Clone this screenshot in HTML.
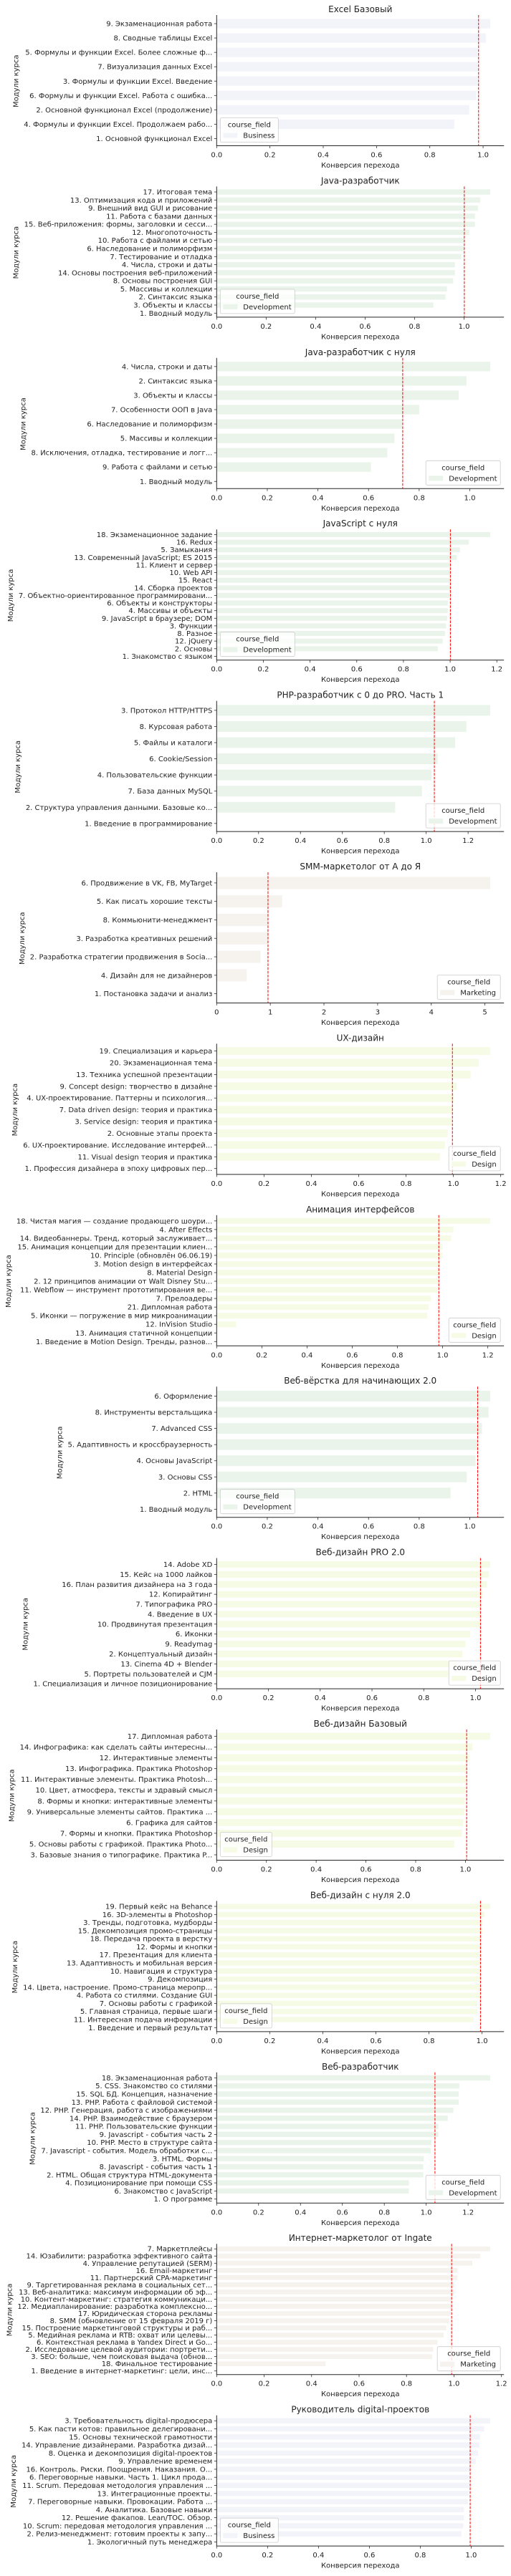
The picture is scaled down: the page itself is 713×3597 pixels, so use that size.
<!DOCTYPE html>
<html><head><meta charset="utf-8"><title>Конверсия перехода по модулям</title>
<style>
html,body{margin:0;padding:0;background:#fff;}
svg text{font-family:"DejaVu Sans","Liberation Sans","Noto Sans CJK SC",sans-serif;fill:#222;}
</style></head>
<body>
<svg id="chart" xmlns="http://www.w3.org/2000/svg" width="713" height="3592" viewBox="0 0 713 3592"></svg>
<script>
const titles=["Excel Базовый","Java-разработчик","Java-разработчик с нуля","JavaScript с нуля","PHP-разработчик с 0 до PRO. Часть 1","SMM-маркетолог от А до Я","UX-дизайн","Анимация интерфейсов","Веб-вёрстка для начинающих 2.0","Веб-дизайн PRO 2.0","Веб-дизайн Базовый","Веб-дизайн с нуля 2.0","Веб-разработчик","Интернет-маркетолог от Ingate","Руководитель digital-проектов"];
const fields=["Business","Development","Development","Development","Development","Marketing","Design","Design","Development","Design","Design","Design","Development","Marketing","Business"];
const means=[0.983,1.001,0.735,1.001,1.039,0.957,0.996,0.983,1.031,1.019,1.005,0.994,1.042,0.99,0.996];
const tickSteps=[0.2,0.2,0.2,0.2,0.2,1,0.2,0.2,0.2,0.2,0.2,0.2,0.2,0.2,0.2];
const legendSides=["left","left","right","left","right","right","right","right","left","right","left","left","right","right","left"];

const labels0=["9. Экзаменационная работа","8. Сводные таблицы Excel","5. Формулы и функции Excel. Более сложные ф...","7.  Визуализация данных Excel","3. Формулы и функции Excel. Введение","6. Формулы и функции Excel. Работа с ошибка...","2. Основной функционал Excel (продолжение)","4. Формулы и функции Excel. Продолжаем рабо...","1. Основной функционал Excel"];
const values0=[1.027,1.010,0.98,0.98,0.98,0.974,0.948,0.892,0];
const labels1=["17. Итоговая тема","13. Оптимизация кода и приложений","9. Внешний вид GUI и рисование","11. Работа с базами данных","15. Веб-приложения: формы, заголовки и сесси...","12. Многопоточность","10. Работа с файлами и сетью","6. Наследование и полиморфизм","7. Тестирование и отладка","4. Числа, строки и даты","14. Основы построения веб-приложений","8. Основы построения GUI","5. Массивы и коллекции","2. Синтаксис языка","3. Объекты и классы","1. Вводный модуль"];
const values1=[1.106,1.065,1.056,1.044,1.044,1.021,1.003,1.0,0.989,0.963,0.963,0.956,0.931,0.925,0.876,0];
const labels2=["4. Числа, строки и даты","2. Синтаксис языка","3. Объекты и классы","7. Особенности ООП в Java","6. Наследование и полиморфизм","5. Массивы и коллекции","8. Исключения, отладка, тестирование и логг...","9. Работа с файлами и сетью","1. Вводный модуль"];
const values2=[1.081,0.987,0.956,0.8,0.732,0.702,0.674,0.609,0];
const labels3=["18. Экзаменационное задание","16. Redux","5. Замыкания","13. Современный JavaScript; ES 2015","11. Клиент и сервер","10. Web API","15. React","14. Сборка проектов","7. Объектно-ориентированное программировани...","6. Объекты и конструкторы","4. Массивы и объекты","9. JavaScript в браузере; DOM","3. Функции","8. Разное","12. jQuery","2. Основы","1. Знакомство с языком"];
const values3=[1.172,1.08,1.042,1.029,0.999,0.999,0.999,0.999,0.996,0.99,0.99,0.987,0.983,0.978,0.968,0.947,0];
const labels4=["3. Протокол HTTP/HTTPS","8. Курсовая работа","5. Файлы и каталоги","6. Cookie/Session","4. Пользовательские функции","7. База данных MySQL","2. Структура управления данными. Базовые ко...","1. Введение в программирование"];
const values4=[1.306,1.192,1.138,1.055,1.025,0.98,0.852,0];
const labels5=["6. Продвижение в VK, FB, MyTarget","5. Как писать хорошие тексты","8. Коммьюнити-менеджмент","3. Разработка креативных решений","2. Разработка стратегии продвижения в Socia...","4. Дизайн для не дизайнеров","1. Постановка задачи и анализ "];
const values5=[5.10,1.22,0.95,0.95,0.817,0.561,0];
const labels6=["19. Специализация и карьера","20. Экзаменационная тема","13. Техника успешной презентации","9. Concept design: творчество в дизайне","4. UX-проектирование. Паттерны и психология...","7. Data driven design: теория и практика","3. Service design: теория и практика","2. Основные этапы проекта","6. UX-проектирование. Исследование интерфей...","11. Visual design теория и практика","1. Профессия дизайнера в эпоху цифровых пер..."];
const values6=[1.156,1.107,1.073,1.015,1.001,0.996,0.993,0.976,0.964,0.943,0];
const labels7=["18. Чистая магия — создание продающего шоури...","4. After Effects","14. Видеобаннеры. Тренд, который заслуживает...","15. Анимация концепции для презентации клиен...","10. Principle (обновлён 06.06.19)","3. Motion design в интерфейсах","8. Material Design","2. 12 принципов анимации от Walt Disney Stu...","11. Webflow — инструмент прототипирования ве...","7. Прелоадеры","21. Дипломная работа","5. Иконки — погружение в мир микроанимации","12. InVision Studio","13. Анимация статичной концепции","1. Введение в Motion Design. Тренды, разнов..."];
const values7=[1.211,1.048,1.038,0.999,0.999,0.988,0.98,0.98,0.977,0.948,0.939,0.932,0.086,0,0];
const labels8=["6. Оформление","8. Инструменты верстальщика","7. Advanced CSS","5. Адаптивность и кроссбраузерность","4. Основы JavaScript","3. Основы CSS","2. HTML","1. Вводный модуль"];
const values8=[1.081,1.074,1.048,1.03,1.023,0.988,0.924,0];
const labels9=["14. Adobe XD","15. Кейс на 1000 лайков","16. План развития дизайнера на 3 года","12. Копирайтинг","7. Типографика PRO","4.  Введение в UX","10. Продвинутая презентация","6. Иконки","9. Readymag","2. Концептуальный дизайн","13. Cinema 4D + Blender","5. Портреты пользователей и CJM","1. Специализация и личное позиционирование"];
const values9=[1.057,1.052,1.044,1.027,1.016,1.016,1.016,0.98,0.961,0.949,0.933,0.893,0];
const labels10=["17. Дипломная работа","14. Инфографика: как сделать сайты интересны...","12. Интерактивные элементы","13. Инфографика. Практика Photoshop","11. Интерактивные элементы. Практика Photosh...","10. Цвет, атмосфера, тексты и здравый смысл","8. Формы и кнопки: интерактивные элементы","9. Универсальные элементы сайтов. Практика ...","6. Графика для сайтов","7. Формы и кнопки. Практика Photoshop","5. Основы работы с графикой. Практика Photo...","3. Базовые знания о типографике. Практика P..."];
const values10=[1.1,1.028,1.016,1.004,1.004,1.0,0.997,0.995,0.992,0.986,0.955,0];
const labels11=["19. Первый кейс на Behance","16. 3D-элементы в Photoshop","3. Тренды, подготовка, мудборды","15. Декомпозиция промо-страницы","18. Передача проекта в верстку","12. Формы и кнопки","17. Презентация для клиента","13.  Адаптивность и мобильная версия","10. Навигация и структура","9. Декомпозиция","14. Цвета, настроение. Промо-страница меропр...","4. Работа со стилями. Создание GUI","7. Основы работы с графикой","5. Главная страница, первые шаги","11. Интересная подача информации","1. Введение и первый результат"];
const values11=[1.031,1.01,1.001,1.001,0.994,0.994,0.991,0.991,0.991,0.991,0.991,0.991,0.981,0.981,0.968,0];
const labels12=["18. Экзаменационная работа ","5. CSS. Знакомство со стилями","15. SQL БД. Концепция, назначение","13. PHP. Работа с файловой системой","12. PHP. Генерация, работа  с изображениями","14. PHP. Взаимодействие  с браузером","11. PHP. Пользовательские функции","9. Javascript - события часть 2","10. PHP. Место в структуре сайта","7. Javascript - события. Модель обработки с...","3. HTML. Формы","8. Javascript - события часть 1 ","2. HTML. Общая структура HTML-документа","4. Позиционирование при помощи CSS","6. Знакомство с JavaScript","1. О программе"];
const values12=[1.306,1.158,1.155,1.155,1.13,1.103,1.058,1.058,1.025,1.022,0.989,0.986,0.986,0.917,0.917,0];
const labels13=["7. Маркетплейсы","14. Юзабилити: разработка эффективного сайта","4. Управление репутацией (SERM)","16. Email-маркетинг","11. Партнерский CPA-маркетинг","9. Таргетированная реклама в социальных сет...","13. Веб-аналитика: максимум информации об эф...","10. Контент-маркетинг: стратегия коммуникаци...","12. Медиапланирование: разработка комплексно...","17. Юридическая сторона рекламы","8. SMM (обновление от 15 февраля 2019 г)","15. Построение маркетинговой структуры и раб...","5. Медийная реклама и RTB: охват или целевы...","6. Контекстная реклама в Yandex Direct и Go...","2. Исследование целевой аудитории: портрети...","3. SEO: больше, чем поисковая выдача (обнов...","18. Финальное тестирование","1. Введение в интернет-маркетинг: цели, инс..."];
const values13=[1.153,1.111,1.077,1.015,1.015,1.001,1.001,0.99,0.988,0.985,0.98,0.968,0.956,0.931,0.913,0.908,0.459,0];
const labels14=["3. Требовательность digital-продюсера","5. Как пасти котов: правильное делегировани...","15. Основы технической грамотности","14. Управление дизайнерами. Разработка дизай...","8. Оценка и декомпозиция digital-проектов","9. Управление временем","16. Контроль. Риски. Поощрения. Наказания. О...","6. Переговорные навыки. Часть 1. Цикл прода...","11. Scrum. Передовая методология управления ...","13. Интеграционные проекты.","7. Переговорные навыки. Провокации. Работа ...","4. Аналитика. Базовые навыки","12. Решение факапов. Lean/TOC. Обзор.","10. Scrum: передовая методология управления ...","2. Релиз-менеджмент: готовим проекты к запу...","1. Экологичный путь менеджера"];
const values14=[1.075,1.051,1.035,1.032,1.027,1.018,0.995,0.992,0.992,0.99,0.987,0.972,0.972,0.969,0.961,0];

const allLabels=[labels0,labels1,labels2,labels3,labels4,labels5,labels6,labels7,labels8,labels9,labels10,labels11,labels12,labels13,labels14];
const allValues=[values0,values1,values2,values3,values4,values5,values6,values7,values8,values9,values10,values11,values12,values13,values14];

const fieldColors={Business:"#f3f4f9",Development:"#eaf4ea",Marketing:"#f6f2ee",Design:"#f5fbe5"};
const NS="http://www.w3.org/2000/svg";
const svg=document.getElementById("chart");
const AX_L=302.3, AX_R=703.2, PANEL_H=239.4;

function mk(tag,attrs,parent){
  const e=document.createElementNS(NS,tag);
  for(const k in attrs) e.setAttribute(k,attrs[k]);
  parent.appendChild(e);
  return e;
}

for(let i=0;i<titles.length;i++){
  const labels=allLabels[i], values=allValues[i];
  const o=i*PANEL_H, top=o+23, bottom=o+203.5;
  const xmax=Math.max(...values)*1.05;
  const xs=v=>AX_L+v/xmax*(AX_R-AX_L);
  const n=labels.length, band=(bottom-top)/n;
  const yc=k=>top+band*(k+0.5);

  const g=mk("g",{},svg);
  
  

  const t=mk("text",{x:(AX_L+AX_R)/2,y:o+17,"text-anchor":"middle","font-size":"12"},g);
  t.textContent=titles[i];
  
  

  for(let k=0;k<n;k++){
    if(values[k]<=0) continue;
    const r=mk("rect",{x:AX_L,y:yc(k)-band*0.33,width:xs(values[k])-AX_L,height:band*0.66,fill:fieldColors[fields[i]]},g);
    
    
  }
  const lg=mk("g",{},g);
  
  
  for(let k=0;k<n;k++){
    mk("line",{x1:AX_L-3.5,x2:AX_L,y1:yc(k),y2:yc(k),stroke:"#333","stroke-width":"0.8"},g);
    const lt=mk("text",{x:AX_L-6,y:yc(k)+3.5,"text-anchor":"end","font-size":"10"},lg);
    lt.textContent=labels[k];
    
    
  }
  const step=tickSteps[i];
  for(let v=0;v<=xmax+1e-9;v+=step){
    const x=xs(v);
    mk("line",{x1:x,x2:x,y1:bottom,y2:bottom+3.5,stroke:"#333","stroke-width":"0.8"},g);
    const xt=mk("text",{x:x,y:o+219.5,"text-anchor":"middle","font-size":"10"},g);
    xt.textContent=step>=1?String(Math.round(v)):v.toFixed(1);
    
    
  }
  const sp=mk("path",{d:`M${AX_L} ${top-2}V${bottom}H${AX_R}`,fill:"none",stroke:"#262626","stroke-width":"1"},g);
  
  
  const ml=mk("line",{x1:xs(means[i]),x2:xs(means[i]),y1:top-2,y2:bottom,stroke:"#ff0000","stroke-width":"1","stroke-dasharray":"3.7 1.6"},g);
  
  
  const xl=mk("text",{x:(AX_L+AX_R)/2,y:o+234,"text-anchor":"middle","font-size":"10"},g);
  xl.textContent="Конверсия перехода";
  
  
  let minX=AX_L-150;
  try{ minX=lg.getBBox().x; }catch(e){}
  const ylx=minX-8, yly=(top+bottom)/2;
  const yl=mk("text",{x:ylx,y:yly,"text-anchor":"middle","font-size":"10",transform:`rotate(-90 ${ylx} ${yly})`},g);
  yl.textContent="Модули курса";
  
  
  const lw=fields[i]==="Business"?81:(fields[i]==="Development"?104:(fields[i]==="Marketing"?88:72));
  const lh=34;
  const lx=legendSides[i]==="left"?AX_L+5:AX_R-5-lw;
  const ly=bottom-5-lh;
  const leg=mk("g",{},g);
  
  
  mk("rect",{x:lx,y:ly,width:lw,height:lh,rx:"2",fill:"#ffffff","fill-opacity":"0.8",stroke:"#cccccc","stroke-width":"0.8"},leg);
  const ltitle=mk("text",{x:lx+lw/2,y:ly+13,"text-anchor":"middle","font-size":"10"},leg);
  ltitle.textContent="course_field";
  
  
  mk("rect",{x:lx+4,y:ly+21,width:20,height:7,fill:fieldColors[fields[i]]},leg);
  const lt2=mk("text",{x:lx+32,y:ly+28,"font-size":"10"},leg);
  lt2.textContent=fields[i];
  
  
}
</script>
</body></html>
